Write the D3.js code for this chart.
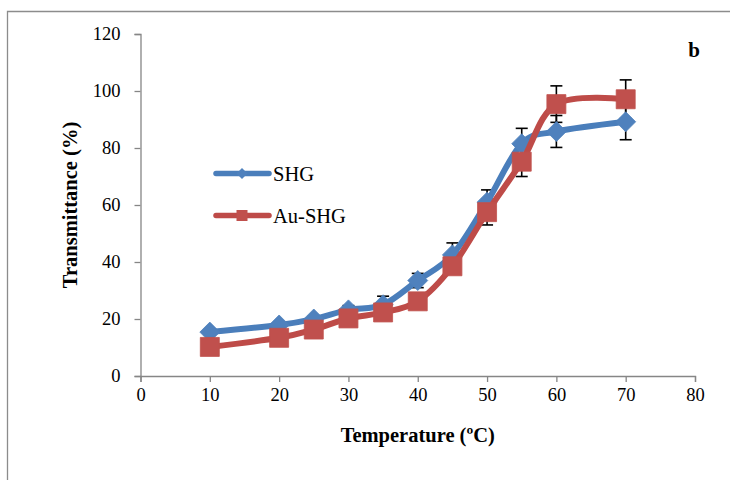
<!DOCTYPE html>
<html>
<head>
<meta charset="utf-8">
<script src="https://cdn.jsdelivr.net/npm/d3@7/dist/d3.min.js"></script>
<style>
  html, body { margin: 0; padding: 0; background: #fff; }
  svg { display: block; font-family: "Liberation Serif", "Times New Roman", serif; }
</style>
</head>
<body>
<svg id="chart" width="730" height="481"></svg>
<script>
// Temperature (°C) at which transmittance was measured
const temperatures = [10, 20, 25, 30, 35, 40, 45, 50, 55, 60, 70];

// Transmittance (%) for each hydrogel
const shgValues   = [15.4, 17.9, 20, 23.2, 25, 33.5, 42.5, 61, 81.5, 85.8, 89.2];
const auShgValues = [10.2, 13.4, 16.3, 20.2, 22.3, 26.2, 38.5, 57.5, 75.2, 95.4, 97.1];

// Standard deviations
const shgErrors   = [1, 1, 1, 1.5, 3, 2.5, 4.2, 4.3, 5.4, 5.6, 6.3];
const auShgErrors = [1, 1, 1, 1, 1.5, 2, 2.5, 4.5, 5.2, 6.4, 6.8];

const xTicks = [0, 10, 20, 30, 40, 50, 60, 70, 80];
const yTicks = [0, 20, 40, 60, 80, 100, 120];

const seriesNames = ["SHG", "Au-SHG"];

const svg = d3.select("#chart");

// outer frame (top and left edges visible)
svg.append("path")
  .attr("d", "M7.5,480 L7.5,11.5 L730,11.5")
  .attr("fill", "none")
  .attr("stroke", "#8c8c8c")
  .attr("stroke-width", 1.3);

const x = d3.scaleLinear().domain([0, 80]).range([140.5, 695]);
const y = d3.scaleLinear().domain([0, 120]).range([376, 34]);

const axisColor = "#868686";

// x axis
const xAxis = svg.append("g")
  .attr("transform", `translate(0,${y(0)})`)
  .call(d3.axisBottom(x).tickValues(xTicks).tickSize(6).tickPadding(6).tickFormat(d3.format("d")));
// y axis
const yAxis = svg.append("g")
  .attr("transform", `translate(${x(0)},0)`)
  .call(d3.axisLeft(y).tickValues(yTicks).tickSize(6).tickPadding(14).tickFormat(d3.format("d")));

[xAxis, yAxis].forEach(g => {
  g.select(".domain").attr("stroke", axisColor).attr("stroke-width", 1.3);
  g.selectAll(".tick line").attr("stroke", axisColor).attr("stroke-width", 1.3);
  g.selectAll(".tick text")
    .attr("fill", "#000")
    .style("font-family", "'Liberation Serif', 'Times New Roman', serif")
    .style("font-size", "18.5px");
});

// axis titles
svg.append("text")
  .attr("x", (x(0) + x(80)) / 2)
  .attr("y", 442)
  .attr("text-anchor", "middle")
  .style("font-weight", "bold")
  .style("font-size", "20.5px")
  .text("Temperature (ºC)");

svg.append("text")
  .attr("transform", `translate(77,${(y(0) + y(120)) / 2}) rotate(-90)`)
  .attr("text-anchor", "middle")
  .style("font-weight", "bold")
  .style("font-size", "20.5px")
  .text("Transmittance (%)");

// panel letter
svg.append("text")
  .attr("x", 694)
  .attr("y", 57)
  .attr("text-anchor", "middle")
  .style("font-weight", "bold")
  .style("font-size", "21px")
  .text("b");

const series = [
  { name: seriesNames[0], values: shgValues, errors: shgErrors, line: "#4a7ebb", fill: "#4f81bd", marker: "diamond" },
  { name: seriesNames[1], values: auShgValues, errors: auShgErrors, line: "#be4b48", fill: "#c0504d", marker: "square" }
];

// error bars underneath the series
const errG = svg.append("g");
series.forEach(s => {
  temperatures.forEach((t, i) => {
    const cx = x(t), top = y(s.values[i] + s.errors[i]), bot = y(s.values[i] - s.errors[i]);
    errG.append("line").attr("x1", cx).attr("x2", cx).attr("y1", top).attr("y2", bot)
      .attr("stroke", "#000").attr("stroke-width", 1.6);
    [top, bot].forEach(yy => errG.append("line")
      .attr("x1", cx - 6).attr("x2", cx + 6).attr("y1", yy).attr("y2", yy)
      .attr("stroke", "#000").attr("stroke-width", 1.6));
  });
});

const line = d3.line()
  .x((d, i) => x(temperatures[i]))
  .y(d => y(d))
  .curve(d3.curveCardinal.tension(0));

function markerPath(type, size) {
  if (type === "diamond") {
    const r = size;
    return `M0,${-r} L${r},0 L0,${r} L${-r},0 Z`;
  }
  const h = size;
  return `M${-h},${-h} L${h},${-h} L${h},${h} L${-h},${h} Z`;
}

series.forEach(s => {
  const g = svg.append("g");
  g.append("path")
    .attr("d", line(s.values))
    .attr("fill", "none")
    .attr("stroke", s.line)
    .attr("stroke-width", 6)
    .attr("stroke-linejoin", "round")
    .attr("stroke-linecap", "round");
  g.selectAll("path.mark")
    .data(s.values)
    .join("path")
    .attr("class", "mark")
    .attr("transform", (d, i) => `translate(${x(temperatures[i])},${y(d)})`)
    .attr("d", markerPath(s.marker, s.marker === "diamond" ? 10 : 9.5))
    .attr("fill", s.fill)
    .attr("stroke", s.fill)
    .attr("stroke-width", 0.8);
});

// legend
const legend = svg.append("g");
series.forEach((s, i) => {
  const ly = 173.5 + i * 42;
  legend.append("line")
    .attr("x1", 216).attr("x2", 269).attr("y1", ly).attr("y2", ly)
    .attr("stroke", s.line).attr("stroke-width", 5.5).attr("stroke-linecap", "round");
  legend.append("path")
    .attr("transform", `translate(242,${ly})`)
    .attr("d", markerPath(s.marker, s.marker === "diamond" ? 5.5 : 5.5))
    .attr("fill", s.fill);
  legend.append("text")
    .attr("x", 273).attr("y", ly + 7)
    .style("font-size", "20.5px")
    .text(s.name);
});
</script>
</body>
</html>
